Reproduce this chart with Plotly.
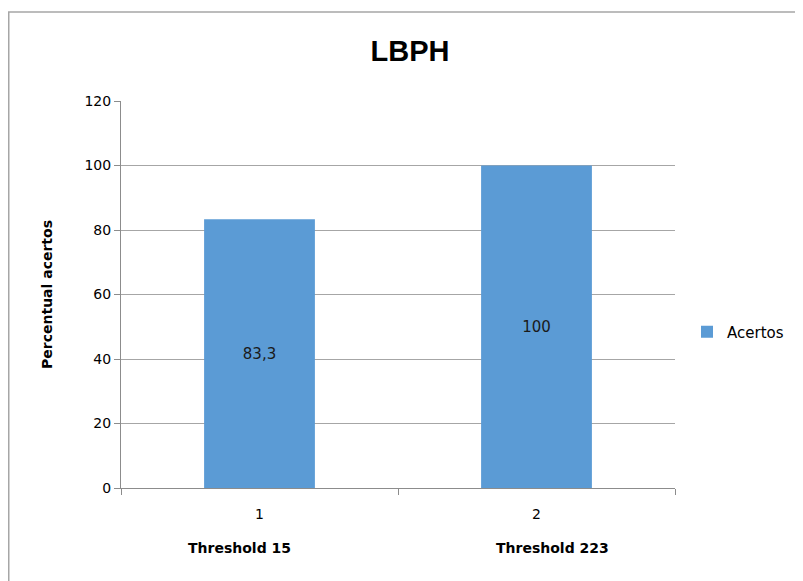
import plotly.graph_objects as go

categories = ["1", "2"]
category_names = ["Threshold 15", "Threshold 223"]
acertos = [83.3, 100]
value_labels = ["83,3", "100"]
y_ticks = [0, 20, 40, 60, 80, 100, 120]

# the page body adds an 8px offset, so the figure is sized to fit the rest
W, H = 795, 573
L, R, T, B = 113, 128, 93, 93
pw, ph = W - L - R, H - T - B

body_font = "'DejaVu Sans', Verdana, sans-serif"
title_font = "'Liberation Sans Narrow', 'Arial Narrow', 'Liberation Sans', sans-serif"

fig = go.Figure()
fig.add_trace(go.Bar(
    x=categories, y=acertos, name="Acertos",
    marker=dict(color="#5b9bd5", line=dict(width=0)),
    width=0.4,
    text=value_labels, textposition="inside", insidetextanchor="middle",
    textfont=dict(size=15, color="#1a1a1a", family=body_font),
    textangle=0,
))

label_shifts = [-20, 16]  # the category captions sit slightly off-centre in the original
annotations = []
for i, n in enumerate(category_names):
    annotations.append(dict(x=i, xref="x", y=-60 / ph, yref="paper",
                            text="<b>" + n + "</b>", showarrow=False,
                            xshift=label_shifts[i],
                            font=dict(size=14, color="#000000", family=body_font),
                            xanchor="center", yanchor="middle"))

fig.update_layout(
    width=W, height=H,
    margin=dict(l=L, r=R, t=T, b=B, pad=0, autoexpand=False),
    paper_bgcolor="white", plot_bgcolor="white",
    title=dict(text="<b>LBPH</b>", x=(410 - 8 - L) / pw, xref="paper",
               y=1 - 43 / H, yref="container", yanchor="middle", xanchor="center",
               font=dict(size=29, color="#000000", family=title_font)),
    font=dict(family=body_font, color="#000000"),
    showlegend=True,
    legend=dict(x=(679 - L) / pw, y=(T + ph - 324) / ph, xanchor="left", yanchor="middle",
                font=dict(size=15, color="#000000", family=body_font),
                itemwidth=30, bgcolor="rgba(0,0,0,0)"),
    annotations=annotations,
    shapes=[dict(type="rect", xref="paper", yref="paper",
                 x0=(0.75 - L) / pw, x1=(W + 5 - L) / pw,
                 y0=-(B + 5) / ph, y1=(T + ph - 4) / ph,
                 line=dict(color="#a6a6a6", width=1.5), layer="below")],
)

fig.update_xaxes(
    type="category", showline=True, linecolor="#8c8c8c", linewidth=1,
    ticks="outside", tickson="boundaries", ticklen=6, tickcolor="#8c8c8c",
    ticklabelstandoff=13,
    tickfont=dict(size=14, color="#000000", family=body_font),
    showgrid=False, zeroline=False, automargin=False,
)
fig.update_yaxes(
    range=[0, 120], tickvals=y_ticks, showline=True, linecolor="#8c8c8c", linewidth=1,
    ticks="outside", ticklen=6, tickcolor="#8c8c8c",
    tickfont=dict(size=14, color="#000000", family=body_font),
    showgrid=True, gridcolor="#a6a6a6", gridwidth=1, zeroline=False, automargin=False,
    title=dict(text="<b>Percentual acertos</b>", standoff=28,
               font=dict(size=14, color="#000000", family=body_font)),
)

fig.write_html("out.html")
